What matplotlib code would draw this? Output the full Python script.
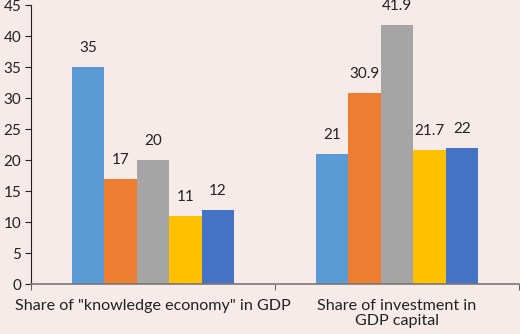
import matplotlib
matplotlib.use("Agg")
import matplotlib.pyplot as plt
import numpy as np

categories = ['Share of "knowledge economy" in GDP', 'Share of investment in\nGDP capital']
series_1 = [35, 21]
series_2 = [17, 30.9]
series_3 = [20, 41.9]
series_4 = [11, 21.7]
series_5 = [12, 22]
value_labels = [["35", "21"], ["17", "30.9"], ["20", "41.9"], ["11", "21.7"], ["12", "22"]]

colors = ["#5B9BD5", "#ED7D31", "#A5A5A5", "#FFC000", "#4472C4"]
bg = "#F6EBE9"

plt.rcParams['font.family'] = ['Lato', 'DejaVu Sans']

fig = plt.figure(figsize=(5.2, 3.34), dpi=100, facecolor=bg)
ax = fig.add_axes([0.0596, 0.1497, 0.9384, 0.834])
ax.set_facecolor(bg)

x = np.arange(len(categories))
width = 0.664 / 5
all_series = [series_1, series_2, series_3, series_4, series_5]
for i, vals in enumerate(all_series):
    pos = x + (i - 2) * width
    ax.bar(pos, vals, width=width, color=colors[i], linewidth=0)
    for px, v, lab in zip(pos, vals, value_labels[i]):
        ax.annotate(lab, (px, v), xytext=(0, 19), textcoords='offset pixels',
                    ha='center', va='center', fontsize=11, color='#222222')

ax.set_xlim(-0.5, 1.5)
ax.set_ylim(0, 45)
ax.set_yticks(range(0, 46, 5))
ax.set_xticks(x)
ax.set_xticklabels(categories, fontsize=11.6, color='#222222', linespacing=1.1)
ax.set_xticks([-0.5, 0.5, 1.5], minor=True)
ax.tick_params(axis='x', which='major', length=0, pad=11)
ax.tick_params(axis='x', which='minor', length=4, color='#444444', direction='out')
ax.tick_params(axis='y', length=4, color='#222222', labelsize=11, labelcolor='#222222', pad=3)

for s in ['top', 'right']:
    ax.spines[s].set_visible(False)
ax.spines['left'].set_color('#222222')
ax.spines['bottom'].set_color('#777777')
ax.spines['bottom'].set_linewidth(1.2)

fig.savefig("out.png", dpi=100, facecolor=bg)
